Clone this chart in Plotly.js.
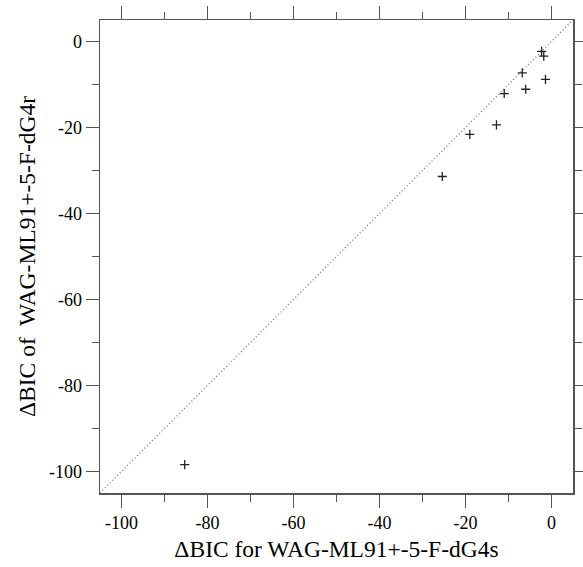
<!DOCTYPE html>
<html>
<head>
<meta charset="utf-8">
<script src="https://cdn.plot.ly/plotly-3.0.1.min.js"></script>
<style>html,body{margin:0;padding:0;background:#fff;}#chart{width:583px;height:567px;}</style>
</head>
<body>
<div id="chart"></div>
<script>
const xValues = [-2.3, -1.8, -6.8, -1.4, -6.0, -11.0, -12.8, -19.0, -25.4, -85.3];
const yValues = [-2.3, -3.4, -7.3, -8.8, -11.1, -12.1, -19.4, -21.6, -31.4, -98.4];
const diagX = [-105, 5];
const diagY = [-105, 5];
const tickValues = [-100, -80, -60, -40, -20, 0];
const tickLabels = ['-100', '-80', '-60', '-40', '-20', '0'];
const xTitle = "ΔBIC for WAG-ML91+-5-F-dG4s";
const yTitle = "ΔBIC of  WAG-ML91+-5-F-dG4r";

const SERIF = 'Liberation Serif';

const axisCommon = {
  range: [-105, 5],
  tickmode: 'array',
  tickvals: tickValues,
  ticktext: tickLabels,
  ticks: 'outside',
  ticklen: 13,
  tickwidth: 1.5,
  tickcolor: '#555',
  showline: true,
  linecolor: '#555',
  linewidth: 1.5,
  mirror: 'ticks',
  showgrid: false,
  zeroline: false,
  tickfont: {family: SERIF, size: 18, color: '#000'},
  minor: {dtick: 10, tick0: 0, ticks: 'outside', ticklen: 7, tickwidth: 1.5, tickcolor: '#555', showgrid: false},
  fixedrange: true
};

const data = [
  {x: diagX, y: diagY, mode: 'lines', line: {color: '#777', width: 1.3, dash: '1px,2.5px'}, hoverinfo: 'skip', showlegend: false},
  {x: xValues, y: yValues, mode: 'markers', marker: {symbol: 'cross-thin', size: 6.5, color: '#000', line: {color: '#222', width: 1.3}}, showlegend: false}
];

const layout = {
  width: 583, height: 567,
  margin: {l: 100, r: 10, t: 20, b: 74},
  paper_bgcolor: '#fff', plot_bgcolor: '#fff',
  font: {family: SERIF},
  xaxis: Object.assign({}, axisCommon, {title: {text: xTitle, font: {family: SERIF, size: 23.5, color: '#000'}, standoff: 8}}),
  yaxis: Object.assign({}, axisCommon, {title: {text: yTitle, font: {family: SERIF, size: 23.5, color: '#000'}, standoff: 6}}),
  showlegend: false
};

Plotly.newPlot('chart', data, layout, {displayModeBar: false, staticPlot: true});
</script>
</body>
</html>
